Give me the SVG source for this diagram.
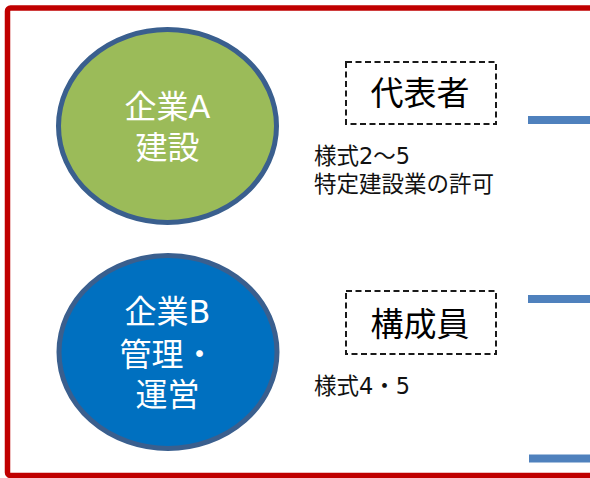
<svg xmlns="http://www.w3.org/2000/svg" width="590" height="478" viewBox="0 0 590 478">
<style>
.frame{fill:#FFFFFF;stroke:#C00000;stroke-width:5.5}
.node-ellipse{stroke:#3A5F8E;stroke-width:5}
.ctext{font-family:"DejaVu Sans","Noto Sans CJK JP",sans-serif;font-size:32px;fill:#FFFFFF;text-anchor:middle}
.dbox{fill:#FFFFFF;stroke:#1A1A1A;stroke-width:2;stroke-dasharray:6 3.5}
.btext{font-family:"DejaVu Sans","Noto Sans CJK JP",sans-serif;font-size:33px;fill:#000000;text-anchor:middle}
.note{font-family:"DejaVu Sans","Noto Sans CJK JP",sans-serif;font-size:22.5px;fill:#111111}
.conn{stroke:#4F81BD;stroke-width:8;fill:none}
</style>
<rect class="frame" x="7.5" y="8" width="600" height="467.5" rx="3"/>
<g id="node-a">
<ellipse class="node-ellipse" cx="167.5" cy="126" rx="109" ry="96.5" fill="#9BBB59"/>
<text class="ctext" x="167.5" y="118">企業A</text>
<text class="ctext" x="167.5" y="159">建設</text>
</g>
<g id="node-b">
<ellipse class="node-ellipse" cx="168" cy="352" rx="109" ry="96.5" fill="#0070C0"/>
<text class="ctext" x="167.5" y="323">企業B</text>
<text class="ctext" x="167.5" y="366">管理・</text>
<text class="ctext" x="167.5" y="406">運営</text>
</g>
<g id="box-rep">
<rect class="dbox" x="346" y="62" width="150" height="62"/>
<text class="btext" x="420" y="105">代表者</text>
</g>
<g id="box-mem">
<rect class="dbox" x="346" y="291" width="150" height="63"/>
<text class="btext" x="420" y="336">構成員</text>
</g>
<g id="notes">
<text class="note" x="314" y="164">様式2～5</text>
<text class="note" x="314" y="192">特定建設業の許可</text>
<text class="note" x="314" y="394">様式4・5</text>
</g>
<g id="connectors">
<line class="conn" x1="528" y1="120" x2="590" y2="120"/>
<line class="conn" x1="528" y1="299" x2="590" y2="299"/>
<line class="conn" x1="529" y1="458.5" x2="590" y2="458.5"/>
</g>
</svg>
